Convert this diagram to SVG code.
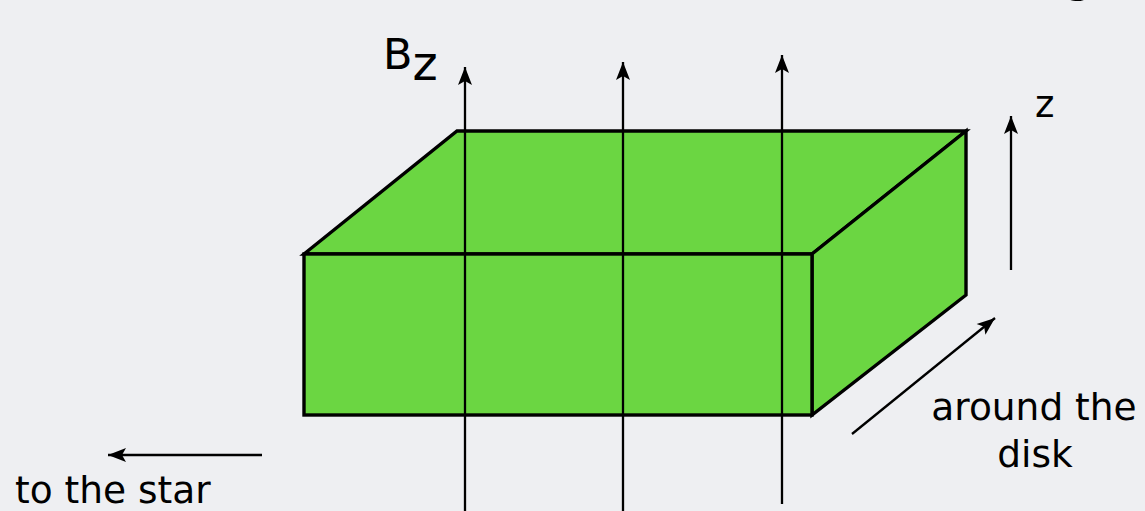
<svg xmlns="http://www.w3.org/2000/svg" width="1145" height="511" viewBox="0 0 1145 511">
<style>
.lbl{font-family:"DejaVu Sans",sans-serif;fill:#000;}
.face{fill:#6bd642;stroke:#000;stroke-width:3.4;stroke-linejoin:miter;}
.arr{stroke:#000;stroke-width:2.3;fill:none;marker-end:url(#ah);}
</style>
<defs>
<marker id="ah" markerUnits="userSpaceOnUse" markerWidth="26" markerHeight="26" viewBox="-22 -11 26 22" refX="0" refY="0" orient="auto">
<path d="M0,0 L-18,-7 L-14,0 L-18,7 Z" fill="#000"/>
</marker>
</defs>
<rect width="1145" height="511" fill="#eeeff2"/>
<text class="lbl" x="1063" y="-9.5" font-size="50">g</text>
<g id="box">
<polygon class="face" points="304,254 457,131 966,131 812,254"/>
<polygon class="face" points="812,254 966,131 966,295 812,415"/>
<rect class="face" x="304" y="254" width="508" height="161"/>
</g>
<g id="connectors">
<line class="arr" x1="465" y1="511" x2="465" y2="67"/>
<line class="arr" x1="623" y1="511" x2="623" y2="62"/>
<line class="arr" x1="782" y1="504" x2="782" y2="55"/>
<line class="arr" x1="1011" y1="270" x2="1011" y2="116"/>
<line class="arr" x1="852" y1="434" x2="995" y2="318"/>
<line class="arr" x1="262" y1="455" x2="108" y2="455"/>
</g>
<g id="label-bz">
<text class="lbl" x="383" y="69" font-size="43">B<tspan font-size="48" dy="11">z</tspan></text>
</g>
<g id="label-z"><text class="lbl" x="1035" y="117" font-size="37">z</text></g>
<g id="label-around"><text class="lbl" x="1034" y="420" font-size="37.5" text-anchor="middle">around the</text>
<text class="lbl" x="1035" y="467" font-size="37.5" text-anchor="middle">disk</text></g>
<g id="label-star"><text class="lbl" x="15" y="503" font-size="37.5">to the star</text></g>
</svg>
